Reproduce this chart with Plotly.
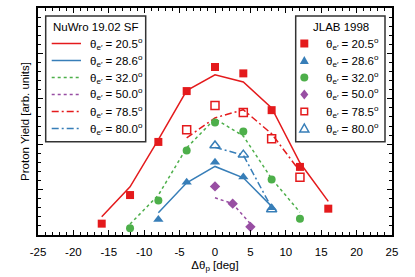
import plotly.graph_objects as go

# NuWro 19.02 SF predictions (lines)
nu_x_205 = [-16, -12, -8, -4, 0, 4, 8, 12, 16]
nu_y_205 = [0.40, 1.06, 2.10, 3.18, 3.53, 3.37, 2.80, 1.59, 0.74]
nu_x_286 = [-8, -4, 0, 4, 8]
nu_y_286 = [0.49, 1.15, 1.51, 1.26, 0.63]
nu_x_320 = [-12, -8, -4, 0, 4, 8, 12]
nu_y_320 = [0.24, 0.88, 1.92, 2.56, 2.18, 1.24, 0.50]
nu_x_500 = [0, 2.5, 5]
nu_y_500 = [0.82, 0.69, 0.25]
nu_x_785 = [-4, 0, 4, 8, 12]
nu_y_785 = [2.14, 2.58, 2.76, 2.23, 1.40]
nu_x_800 = [0, 4, 8]
nu_y_800 = [1.93, 1.76, 0.60]

# JLAB 1998 data (markers)
jl_x_205 = [-16, -12, -8, -4, 0, 4, 8, 12, 16]
jl_y_205 = [0.25, 0.88, 2.05, 3.17, 3.70, 3.56, 2.75, 1.50, 0.58]
jl_x_286 = [-8, -4, 0, 4, 8]
jl_y_286 = [0.34, 1.16, 1.60, 1.28, 0.60]
jl_x_320 = [-12, -8, -4, 0, 4, 8, 12]
jl_y_320 = [0.15, 0.76, 1.86, 2.48, 2.28, 1.22, 0.36]
jl_x_500 = [0, 2.5, 5]
jl_y_500 = [1.07, 0.69, 0.18]
jl_x_785 = [-4, 0, 4, 8, 12]
jl_y_785 = [2.32, 2.85, 2.70, 2.12, 1.27]
jl_x_800 = [0, 4, 8]
jl_y_800 = [1.97, 1.77, 0.56]

labels = ["20.5", "28.6", "32.0", "50.0", "78.5", "80.0"]
x_ticks = [-25, -20, -15, -10, -5, 0, 5, 10, 15, 20, 25]
legend_title_model = "NuWro 19.02 SF"
legend_title_data = "JLAB 1998"

RED = "#e41a1c"
BLUE = "#377eb8"
GREEN = "#4daf4a"
PURPLE = "#984ea3"
FONT = "Liberation Sans, Arial, Helvetica, sans-serif"

W, H = 415, 277
ML, MR, MT, MB = 38, 23, 8, 42
PW, PH = W - ML - MR, H - MT - MB

def px(x):
    return (x - ML) / PW

def py(y):
    return (H - MB - y) / PH

def name(v):
    return "θ<sub>e′</sub> = " + v + "<sup>o</sup>"

fig = go.Figure()

nu = [
    (nu_x_205, nu_y_205, RED, "solid"),
    (nu_x_286, nu_y_286, BLUE, "solid"),
    (nu_x_320, nu_y_320, GREEN, "3px,3px"),
    (nu_x_500, nu_y_500, PURPLE, "3px,3px"),
    (nu_x_785, nu_y_785, RED, "7px,3px,2px,3px"),
    (nu_x_800, nu_y_800, BLUE, "7px,3px,2px,3px"),
]
for (xs, ys, c, d), lab in zip(nu, labels):
    fig.add_trace(go.Scatter(x=xs, y=ys, mode="lines", name="NuWro " + name(lab),
                             line=dict(color=c, width=1.5, dash=d), showlegend=False))

jl = [
    (jl_x_205, jl_y_205, RED, "square", 8),
    (jl_x_286, jl_y_286, BLUE, "triangle-up", 9),
    (jl_x_320, jl_y_320, GREEN, "circle", 8),
    (jl_x_500, jl_y_500, PURPLE, "diamond", 8),
    (jl_x_785, jl_y_785, RED, "square-open", 8),
    (jl_x_800, jl_y_800, BLUE, "triangle-up-open", 9),
]
for (xs, ys, c, s, sz), lab in zip(jl, labels):
    open_ = s.endswith("open")
    fig.add_trace(go.Scatter(x=xs, y=ys, mode="markers", name="JLAB " + name(lab),
                             marker=dict(color=c, symbol=s, size=sz,
                                         line=dict(color=c, width=1.5 if open_ else 0)),
                             showlegend=False))

shapes = []
annotations = []

# legend boxes
for (x0, x1) in [(45.7, 145.7), (295.7, 385.0)]:
    shapes.append(dict(type="rect", xref="paper", yref="paper",
                       x0=px(x0), x1=px(x1), y0=py(141.7), y1=py(16),
                       line=dict(color="#333333", width=1.5), fillcolor="white", layer="above"))

annotations.append(dict(text=legend_title_model, x=px(95.7), y=py(27), xref="paper", yref="paper",
                        showarrow=False, xanchor="center", yanchor="middle", font=dict(size=11.5)))
annotations.append(dict(text=legend_title_data, x=px(341), y=py(27), xref="paper", yref="paper",
                        showarrow=False, xanchor="center", yanchor="middle", font=dict(size=11.5)))

rows = [43.5 + 17 * i for i in range(6)]
for (xs, ys, c, d), lab, ry in zip(nu, labels, rows):
    shapes.append(dict(type="line", xref="paper", yref="paper",
                       x0=px(51.7), x1=px(81), y0=py(ry), y1=py(ry),
                       line=dict(color=c, width=1.5, dash=d), layer="above"))
    annotations.append(dict(text=name(lab), x=px(87.5), y=py(ry), xref="paper", yref="paper",
                            showarrow=False, xanchor="left", yanchor="middle", font=dict(size=11.5)))

symbol_paths = {
    "square": "M-4,-4 L4,-4 L4,4 L-4,4 Z",
    "square-open": "M-3.3,-3.3 L3.3,-3.3 L3.3,3.3 L-3.3,3.3 Z",
    "triangle-up": "M-4.5,-3.5 L4.5,-3.5 L0,4.5 Z",
    "triangle-up-open": "M-4.5,-3.5 L4.5,-3.5 L0,4.5 Z",
    "diamond": "M0,-5 L4,0 L0,5 L-4,0 Z",
}
for (xs, ys, c, s, sz), lab, ry in zip(jl, labels, rows):
    open_ = s.endswith("open")
    common = dict(xref="paper", yref="paper", xsizemode="pixel", ysizemode="pixel",
                  xanchor=px(304.3), yanchor=py(ry), layer="above",
                  line=dict(color=c, width=1.5 if open_ else 0),
                  fillcolor="white" if open_ else c)
    if s == "circle":
        shapes.append(dict(type="circle", x0=-4, x1=4, y0=-4, y1=4, **common))
    else:
        shapes.append(dict(type="path", path=symbol_paths[s], **common))
    annotations.append(dict(text=name(lab), x=px(381), y=py(ry), xref="paper", yref="paper",
                            showarrow=False, xanchor="right", yanchor="middle", font=dict(size=11.5)))

axis_common = dict(showline=True, linecolor="black", linewidth=2, mirror="allticks",
                   ticks="inside", ticklen=5, tickwidth=1.2, tickcolor="black",
                   showgrid=False, zeroline=False, automargin=False)

fig.update_layout(
    width=W, height=H,
    margin=dict(l=ML, r=MR, t=MT, b=MB),
    paper_bgcolor="white", plot_bgcolor="white",
    font=dict(family=FONT, size=11.5, color="black"),
    showlegend=False,
    xaxis=dict(range=[-25, 25], tickvals=x_ticks, ticktext=[str(v) for v in x_ticks],
               tickfont=dict(size=11.5), ticklabelstandoff=5,
               minor=dict(dtick=1, ticklen=3, tickwidth=1, ticks="inside", tickcolor="black"),
               title=dict(text="Δθ<sub>p</sub> [deg]", standoff=4, font=dict(size=11.5)),
               **axis_common),
    yaxis=dict(range=[0, 5], dtick=1, showticklabels=False,
               minor=dict(dtick=0.2, ticklen=3, tickwidth=1, ticks="inside", tickcolor="black"),
               title=dict(text="Proton Yield [arb. units]", standoff=4, font=dict(size=11.5)),
               **axis_common),
    shapes=shapes,
    annotations=annotations,
)

fig.write_html("out.html", config={"displayModeBar": False},
               post_script="document.body.style.margin='0';document.body.style.padding='0';")
